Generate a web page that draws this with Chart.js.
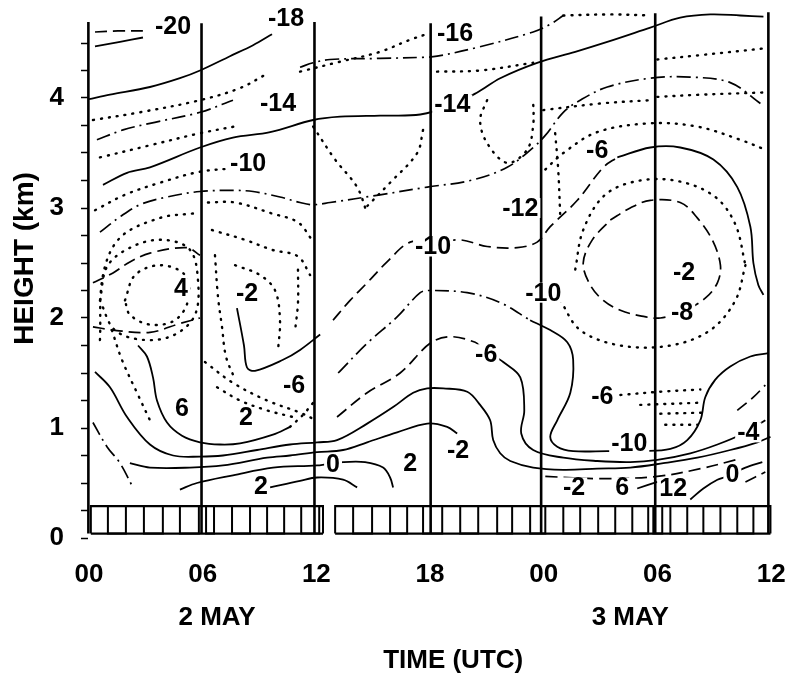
<!DOCTYPE html>
<html><head><meta charset="utf-8">
<script src="https://cdn.jsdelivr.net/npm/chart.js@4.4.1/dist/chart.umd.min.js"></script>
<style>html,body{margin:0;padding:0;background:#fff;}canvas{display:block;}</style>
</head><body>
<canvas id="c" width="790" height="677"></canvas>
<script>
// ---------- axis data ----------
const timeTicks = [0, 6, 12, 18, 24, 30, 36];
const timeLabels = ['00', '06', '12', '18', '00', '06', '12'];
const dayTicks = [6.76, 28.56];
const dayLabels = ['2 MAY', '3 MAY'];
const heightTicks = [0, 0.25, 0.5, 0.75, 1, 1.25, 1.5, 1.75, 2, 2.25, 2.5, 2.75, 3, 3.25, 3.5, 3.75, 4, 4.25, 4.5];
const heightLabels = ['0', '', '', '', '1', '', '', '', '2', '', '', '', '3', '', '', '', '4', '', ''];

// ---------- sounding times (vertical lines) ----------
const soundingHours = [-0.03, 5.94, 11.9, 18.03, 23.86, 29.88, 35.85];
const soundingTops = [4.69, 4.68, 4.69, 4.68, 4.74, 4.77, 4.78];

// ---------- hourly box row ----------
const boxEdgesA = [0.1, 1.0, 1.95, 2.9, 3.9, 4.8, 5.8, 6.18, 6.6, 7.55, 8.5, 9.4, 10.3, 11.2, 12.15, 12.35];
const boxEdgesB = [12.99, 13.94, 14.94, 15.89, 16.79, 17.63, 18.64, 19.59, 20.54, 21.54, 22.33, 23.28, 24.08, 25.03, 25.92, 26.87, 27.77, 28.67, 29.51, 29.78, 30.25, 30.68, 31.57, 32.42, 33.32, 34.21, 35.06, 35.96];
const boxBottom = 0.04, boxTop = 0.29;

// ---------- contour lines [hour, km] ----------
const c01 = [[0.32,4.47],[1.64,4.51],[2.85,4.55]];
const c02 = [[0.32,4.6],[1.53,4.61],[3.01,4.61]];
const c03 = [[0,3.99],[1.11,4.03],[3.22,4.10],[4.80,4.18],[5.86,4.25],[7.44,4.38],[8.66,4.48],[9.66,4.58]];
const c04 = [[0.42,3.62],[1.80,3.71],[3.22,3.77],[5.86,3.87],[7.60,3.98]];
const c05 = [[0.74,3.21],[2.01,3.32],[3.22,3.37],[5.86,3.55],[7.60,3.64],[9.56,3.69],[11.83,3.80],[13.25,3.83],[15.36,3.84],[17.48,3.85],[19.1,3.93],[20.49,4.05],[21.70,4.18],[23.65,4.32],[25.66,4.42],[27.35,4.51],[29.62,4.64],[31.20,4.73],[32.79,4.76],[34.37,4.75],[35.59,4.74]];
const c07 = [[11.14,4.28],[11.83,4.32],[12.72,4.35],[15.36,4.36],[17.63,4.37],[18.37,4.38],[20.49,4.46],[23.44,4.60],[24.34,4.67],[25.03,4.75]];
const c08 = [[0.58,2.78],[1.64,2.92],[2.69,3.03],[4.12,3.10],[5.86,3.15],[7.60,3.16],[8.66,3.15],[10.08,3.10],[11.14,3.05],[11.83,3.03],[12.72,3.05],[15.36,3.12],[17.85,3.19],[20.12,3.25],[22.07,3.37],[23.44,3.55],[24.08,3.66],[25.03,3.87],[25.92,3.98],[27.35,4.10],[29.62,4.18],[31.73,4.19],[33.84,4.14],[35.43,3.95]];
const c09 = [[0.21,2.32],[1.27,2.41],[2.16,2.51],[3.22,2.59],[5.17,2.64],[5.86,2.57]];
const c10 = [[0.21,1.92],[1.27,1.89],[3.22,1.87],[4.80,1.95],[5.86,2.0]];
const c11 = [[7.81,2.09],[8.18,1.75],[8.34,1.55],[8.76,1.52],[10.24,1.62],[11.14,1.71],[12.20,1.85]];
const c12 = [[2.59,1.75],[3.06,1.65],[3.38,1.46],[3.59,1.25],[4.12,1.05],[4.91,0.93],[5.86,0.87],[6.92,0.85],[7.97,0.86],[9.71,0.94],[10.61,1.01]];
const c13 = [[10.61,1.01],[11.30,1.12],[11.83,1.23]];
const c14 = [[0.32,1.51],[1.11,1.37],[2.01,1.10],[3.22,0.85],[4.44,0.75],[5.86,0.74],[7.07,0.75],[8.87,0.80],[10.61,0.85],[12.04,0.87],[13.09,0.89],[14.68,1.04],[16.05,1.19],[17.11,1.32],[17.85,1.36],[18.69,1.36],[19.96,1.33],[20.64,1.21],[21.17,1.07],[21.33,0.89],[21.70,0.77],[22.23,0.70],[23.44,0.64],[25.03,0.62],[26.82,0.63],[28.56,0.64],[30.31,0.68],[32.10,0.73],[33.84,0.80],[35.27,0.87],[35.96,0.92]];
const c15 = [[2.16,0.68],[3.22,0.64],[5.33,0.64],[7.07,0.66],[9.40,0.73],[10.61,0.75],[12.04,0.78],[13.41,0.80],[14.68,0.87],[16.26,0.96],[17.85,1.04],[18.90,1.01],[19.43,0.95]];
const c16 = [[4.80,0.44],[5.70,0.50],[7.60,0.57],[9.71,0.64],[12.04,0.66],[13.41,0.69],[14.57,0.69],[15.52,0.64],[15.89,0.55],[16.05,0.46]];
const c17 = [[9.56,0.46],[11.14,0.52],[12.04,0.55],[13.41,0.53],[14.15,0.46]];
const c18 = [[13.09,1.10],[14.68,1.32],[16.42,1.50],[18.0,1.77],[19.06,1.83],[20.38,1.78],[20.7,1.73]];
const c19 = [[21.5,1.64],[21.86,1.60],[22.76,1.46],[22.97,1.16],[22.81,0.95],[23.44,0.80],[25.03,0.73],[26.82,0.70],[28.56,0.69],[29.99,0.71],[31.73,0.77],[33.16,0.85],[34.53,0.95],[35.69,1.07]];
const c20 = [[13.15,1.50],[14.68,1.77],[16.26,2.01],[17.48,2.23],[18.0,2.25],[19.96,2.23],[21.70,2.14],[23.28,1.98]];
const c21 = [[23.28,1.98],[24.34,1.89],[25.24,1.78],[25.55,1.62],[25.40,1.32],[24.71,1.07],[24.34,0.92],[24.71,0.83],[25.55,0.79],[27.35,0.79],[29.25,0.79],[30.68,0.81],[31.57,0.89],[32.26,1.07],[32.52,1.28],[33.05,1.44],[33.84,1.56],[34.90,1.65],[35.85,1.68]];
const c22 = [[12.88,1.98],[13.78,2.16],[14.68,2.32],[15.73,2.51],[16.95,2.69],[18.16,2.68],[19.59,2.71],[21.01,2.65],[22.60,2.64],[23.65,2.69],[24.34,2.83],[25.77,3.07],[27.14,3.37],[27.88,3.46]];
const c23 = [[27.88,3.46],[29.62,3.55],[31.20,3.55],[32.95,3.44],[34.21,3.19],[34.90,2.83],[35.06,2.50],[35.32,2.30],[35.59,2.21]];
const c24 = [[27.51,2.89],[28.56,3.0],[29.62,3.07],[31.20,3.05],[32.10,2.91],[32.89,2.71],[33.32,2.48],[33.16,2.32],[32.52,2.18],[31.47,2.07],[30.15,2.0],[29.09,2.02],[28.04,2.07],[27.14,2.16],[26.45,2.30],[26.08,2.50],[26.56,2.71],[27.51,2.89]];
const c25 = [[31.73,0.35],[32.42,0.45],[33.16,0.53],[33.69,0.56],[34.64,0.64],[35.53,0.69]];
const c26 = [[34.21,1.16],[35.06,1.28],[35.69,1.39]];
const c27 = [[34.64,0.51],[35.69,0.60]];
const c28 = [[28.93,0.45],[29.99,0.51]];
const c29 = [[0.21,1.05],[0.95,0.83],[1.64,0.68],[2.32,0.46]];
const c30 = [[24.08,0.56],[26.98,0.54],[29.99,0.56],[32.26,0.63],[34.11,0.71]];

// ---------- dotted field ----------
const d01 = [[0.21,3.80],[2.69,3.87],[5.86,3.98],[7.97,4.09],[9.29,4.21]];
const d02 = [[0.58,3.46],[3.22,3.57],[5.86,3.68],[7.97,3.75]];
const d03 = [[0.32,2.98],[1.90,3.12],[3.75,3.23],[5.86,3.33],[7.6,3.36]];
const d04 = [[0.58,2.16],[1.0,2.48],[2.43,2.66],[4.01,2.71],[5.33,2.62],[5.75,2.35],[5.6,2.03],[4.54,1.85],[2.96,1.80],[1.37,1.89],[0.58,2.16]];
const d05 = [[0.58,1.80],[0.74,2.39],[1.64,2.73],[3.75,2.91],[5.5,2.95]];
const d06 = [[1.90,2.16],[2.43,2.39],[3.75,2.48],[5.07,2.39],[5.23,2.16],[4.54,1.98],[3.22,1.94],[2.16,2.03],[1.90,2.16]];
const d07 = [[6.65,2.57],[6.81,2.19],[7.02,1.92],[7.23,1.65],[7.71,1.44]];
const d08 = [[6.12,1.60],[7.60,1.41],[9.40,1.25],[11.14,1.14],[11.99,1.07]];
const d09 = [[11.14,4.24],[13.25,4.33],[15.36,4.42],[16.95,4.53],[18.0,4.59]];
const d10 = [[18.37,4.24],[20.64,4.25],[23.44,4.32]];
const d11 = [[11.83,3.74],[12.99,3.44],[14.15,3.19],[14.68,2.95]];
const d12 = [[17.63,3.71],[17.32,3.50],[15.89,3.23],[14.47,2.98]];
const d13 = [[21.01,3.98],[20.64,3.80],[21.01,3.59],[22.07,3.41],[23.12,3.53],[23.44,3.75],[23.44,3.98]];
const d14 = [[24.60,3.68],[24.76,3.35],[24.87,2.92]];
const d15 = [[24.08,3.35],[25.03,3.50],[26.82,3.69],[29.62,3.77],[32.10,3.74],[34.37,3.62],[35.69,3.53]];
const d16 = [[29.99,4.35],[32.26,4.39],[35.59,4.45]];
const d17 = [[23.97,3.89],[26.98,3.95],[29.62,3.98]];
const d18 = [[29.99,4.01],[32.26,4.03],[35.59,4.05]];
const d19 = [[25.03,4.75],[27.5,4.76],[29.62,4.75]];
const d20 = [[25.66,2.44],[26.08,2.80],[27.24,3.12],[29.09,3.25],[31.20,3.24],[33.05,3.10],[34.11,2.85],[34.64,2.48]];
const d21 = [[24.87,2.16],[25.92,1.89],[28.04,1.75],[30.68,1.75],[32.79,1.89],[34.11,2.16],[34.64,2.48]];
const d22 = [[28.04,1.30],[30.15,1.33],[32.26,1.35]];
const d23 = [[29.09,1.21],[32.26,1.23]];
const d24 = [[30.15,1.13],[32.52,1.14]];
const d25 = [[30.41,1.03],[32.10,1.03]];
const d26 = [[6.28,3.05],[7.71,3.05],[9.66,2.95],[11.03,2.87],[11.77,2.71]];
const d27 = [[6.49,2.80],[8.24,2.71],[9.66,2.62],[11.03,2.56],[11.67,2.39]];
const d28 = [[7.71,2.48],[9.03,2.39],[9.82,2.25],[10.08,1.98],[9.98,1.71]];
const d29 = [[11.03,2.44],[11.03,2.14],[10.88,1.89]];
const d30 = [[1.21,1.89],[1.74,1.62],[2.59,1.30],[3.22,1.07]];
const d31 = [[6.76,1.37],[7.97,1.25],[9.40,1.16],[10.77,1.10]];

// ---------- contour labels ----------
const labelText = ['-20','-18','-16','-14','-14','-10','-12','-10','-6','-10','4','-2','-2','-8','-6','-6','6','2','-6','-10','-4','0','-2','6','12','0','2','2','-2'];
const labelHour = [4.44,10.4,19.32,9.98,19.17,8.40,22.76,18.16,26.82,23.97,4.86,8.34,31.4,31.3,20.96,10.82,4.91,8.29,27.09,28.51,34.79,33.95,25.6,28.14,30.83,12.88,9.08,16.95,19.48];
const labelKm = [4.65,4.73,4.59,3.95,3.94,3.41,3.0,2.65,3.53,2.23,2.27,2.23,2.42,2.05,1.67,1.39,1.18,1.10,1.29,0.86,0.96,0.58,0.46,0.46,0.45,0.67,0.47,0.68,0.80];

// ---------- build datasets ----------
const STYLE = {
  solid:   { dash: [],            w: 1.8 },
  dash:    { dash: [12, 6],       w: 1.7 },
  dashdot: { dash: [14, 5, 2, 5], w: 1.7 },
  dot:     { dash: [1, 7],        w: 2.4 }
};
const contourSet = [
  [c01,'solid'],[c02,'dash'],[c03,'solid'],[c04,'dashdot'],[c05,'solid'],[c07,'dashdot'],[c08,'dashdot'],
  [c09,'dash'],[c10,'dash'],[c11,'solid'],[c12,'solid'],[c13,'dot'],[c14,'solid'],[c15,'solid'],[c16,'solid'],
  [c17,'solid'],[c18,'dash'],[c19,'solid'],[c20,'dashdot'],[c21,'solid'],[c22,'dash'],[c23,'solid'],[c24,'dash'],
  [c25,'solid'],[c26,'dash'],[c27,'dash'],[c28,'solid'],[c29,'dashdot'],[c30,'dash'],
  [d01,'dot'],[d02,'dot'],[d03,'dot'],[d04,'dot'],[d05,'dot'],[d06,'dot'],[d07,'dot'],[d08,'dot'],[d09,'dot'],
  [d10,'dot'],[d11,'dot'],[d12,'dot'],[d13,'dot'],[d14,'dot'],[d15,'dot'],[d16,'dot'],[d17,'dot'],[d18,'dot'],
  [d19,'dot'],[d20,'dot'],[d21,'dot'],[d22,'dot'],[d23,'dot'],[d24,'dot'],[d25,'dot'],[d26,'dot'],[d27,'dot'],
  [d28,'dot'],[d29,'dot'],[d30,'dot'],[d31,'dot']
];
function lineDs(pts, style, tension) {
  const s = STYLE[style];
  return {
    data: pts.map(p => ({ x: p[0], y: p[1] })),
    showLine: true, borderColor: '#000', backgroundColor: '#000',
    borderWidth: s.w, borderDash: s.dash, borderCapStyle: style === 'dot' ? 'round' : 'butt',
    pointRadius: 0, pointHoverRadius: 0, tension: tension, fill: false, clip: false
  };
}
const datasets = [];
contourSet.forEach(([pts, st]) => datasets.push(lineDs(pts, st, 0.35)));

// vertical sounding lines
soundingHours.forEach((h, i) => {
  const ds = lineDs([[h, boxBottom], [h, soundingTops[i]]], 'solid', 0);
  ds.borderWidth = 2.6;
  datasets.push(ds);
});
// box row: square-wave outline + top/bottom edges
function boxRow(edges) {
  const pts = [];
  edges.forEach((e, i) => {
    if (i % 2 === 0) { pts.push([e, boxBottom], [e, boxTop]); }
    else { pts.push([e, boxTop], [e, boxBottom]); }
  });
  const a = lineDs(pts, 'solid', 0); a.borderWidth = 2;
  const top = lineDs([[edges[0], boxTop], [edges[edges.length - 1], boxTop]], 'solid', 0); top.borderWidth = 2.2;
  const bot = lineDs([[edges[0], boxBottom], [edges[edges.length - 1], boxBottom]], 'solid', 0); bot.borderWidth = 2.2;
  datasets.push(a, top, bot);
}
boxRow(boxEdgesA);
boxRow(boxEdgesB);

// ---------- plugins ----------
const FONT_FAMILY = '"Liberation Sans", Arial, Helvetica, sans-serif';
const contourLabels = {
  id: 'contourLabels',
  afterDatasetsDraw(chart) {
    const { ctx, scales } = chart;
    ctx.save();
    ctx.font = 'bold 25px ' + FONT_FAMILY;
    ctx.textAlign = 'center';
    ctx.textBaseline = 'middle';
    labelText.forEach((t, i) => {
      const px = scales.x.getPixelForValue(labelHour[i]);
      const py = scales.y.getPixelForValue(labelKm[i]);
      const w = ctx.measureText(t).width;
      ctx.fillStyle = '#fff';
      ctx.fillRect(px - w / 2 - 2, py - 10, w + 4, 20);
      ctx.fillStyle = '#000';
      ctx.fillText(t, px, py + 1);
    });
    ctx.restore();
  }
};
const whiteBg = {
  id: 'whiteBg',
  beforeDraw(chart) {
    const c = chart.ctx; c.save(); c.fillStyle = '#fff'; c.fillRect(0, 0, chart.width, chart.height); c.restore();
  }
};

const tickFont = { family: FONT_FAMILY, size: 26, weight: 'bold' };
const yTitleFont = { family: FONT_FAMILY, size: 28, weight: 'bold' };
function noPad(a) { a.paddingLeft = 0; a.paddingRight = 0; a.paddingTop = 0; a.paddingBottom = 0; }

new Chart(document.getElementById('c'), {
  type: 'scatter',
  data: { datasets },
  options: {
    responsive: false, animation: false, devicePixelRatio: 1,
    events: [],
    layout: { padding: { top: 10, right: 15, left: 0, bottom: 0 } },
    plugins: { legend: { display: false }, tooltip: { enabled: false } },
    scales: {
      x: {
        type: 'linear', position: 'bottom', min: -0.05, max: 36.2, weight: 0,
        afterBuildTicks: a => { a.ticks = timeTicks.map(v => ({ value: v })); },
        afterFit: a => { a.height = 60; noPad(a); },
        ticks: { callback: (v, i) => timeLabels[i], font: tickFont, color: '#000', padding: 21, maxRotation: 0, autoSkip: false },
        grid: { display: false, drawTicks: false }, border: { display: false }
      },
      xDay: {
        type: 'linear', position: 'bottom', min: -0.05, max: 36.2, weight: 1,
        afterBuildTicks: a => { a.ticks = dayTicks.map(v => ({ value: v })); },
        afterFit: a => { a.height = 79; noPad(a); },
        ticks: { callback: (v, i) => dayLabels[i], font: tickFont, color: '#000', padding: 4, maxRotation: 0, autoSkip: false },
        grid: { display: false, drawTicks: false }, border: { display: false },
        title: { display: true, text: '      TIME (UTC)', font: tickFont, color: '#000', padding: { top: 0, bottom: 1 } }
      },
      y: {
        type: 'linear', position: 'left', min: 0, max: 4.8,
        afterBuildTicks: a => { a.ticks = heightTicks.map(v => ({ value: v })); },
        afterFit: a => { a.width = 88; noPad(a); },
        ticks: { callback: (v, i) => heightLabels[i], font: tickFont, color: '#000', padding: 17, autoSkip: false },
        grid: { drawOnChartArea: false, drawTicks: true, tickLength: 7, tickColor: '#000', tickWidth: 1.5, color: '#000' },
        border: { display: false },
        title: { display: true, text: '    HEIGHT (km)', font: yTitleFont, color: '#000', padding: { top: 8, bottom: 0 } }
      }
    }
  },
  plugins: [whiteBg, contourLabels]
});
</script>
</body></html>
